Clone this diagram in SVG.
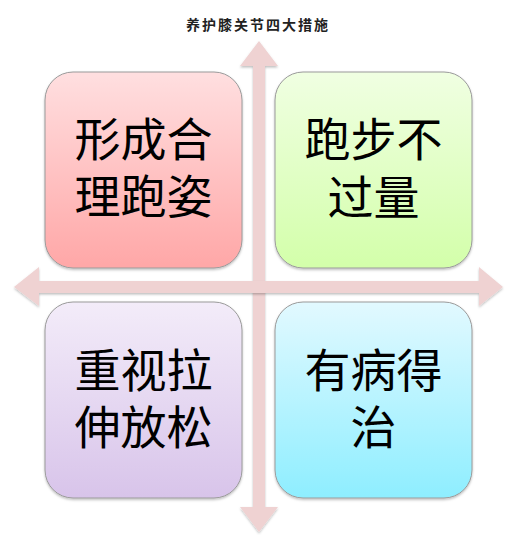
<svg xmlns="http://www.w3.org/2000/svg" width="522" height="535" viewBox="0 0 522 535">
<style>
.t{font-family:"Noto Sans CJK SC","Noto Sans",sans-serif;fill:#000;text-anchor:middle}
.big{font-size:46px}
.title{font-size:14px;font-weight:bold;letter-spacing:2px;fill:#222}
.box{stroke:#9a9a9a;stroke-width:1}
.arrow{fill:#efd2d2}
</style>
<defs>
<linearGradient id="gRed" x1="0" y1="0" x2="0" y2="1"><stop offset="0" stop-color="#ffdfe0"/><stop offset="1" stop-color="#ffa7a7"/></linearGradient>
<linearGradient id="gGreen" x1="0" y1="0" x2="0" y2="1"><stop offset="0" stop-color="#f0ffe2"/><stop offset="1" stop-color="#d3ffaa"/></linearGradient>
<linearGradient id="gPurple" x1="0" y1="0" x2="0" y2="1"><stop offset="0" stop-color="#f3ecf9"/><stop offset="1" stop-color="#d8c4ea"/></linearGradient>
<linearGradient id="gBlue" x1="0" y1="0" x2="0" y2="1"><stop offset="0" stop-color="#e2f9ff"/><stop offset="1" stop-color="#8eeeff"/></linearGradient>
<filter id="sh" x="-10%" y="-10%" width="120%" height="120%"><feDropShadow dx="0" dy="1.5" stdDeviation="1.2" flood-color="#000" flood-opacity="0.25"/></filter>
</defs>
<rect width="522" height="535" fill="#fff"/>
<text class="t title" x="258" y="30">养护膝关节四大措施</text>
<g id="connectors">
<polygon class="arrow" filter="url(#sh)" points="259,41 278,66 265,66 265,507 278,507 259,532 240,507 253,507 253,66 240,66"/>
<polygon class="arrow" filter="url(#sh)" points="14,287 39,267 39,281 479,281 479,267 503,287 479,306 479,293 39,293 39,306"/>
</g>
<g id="node-tl">
<rect class="box" filter="url(#sh)" x="45" y="72" width="197" height="196" rx="28" fill="url(#gRed)"/>
<text class="t big" x="143.5" y="156">形成合</text>
<text class="t big" x="143.5" y="213">理跑姿</text>
</g>
<g id="node-tr">
<rect class="box" filter="url(#sh)" x="275" y="72" width="197" height="196" rx="28" fill="url(#gGreen)"/>
<text class="t big" x="373.5" y="156">跑步不</text>
<text class="t big" x="373.5" y="214">过量</text>
</g>
<g id="node-bl">
<rect class="box" filter="url(#sh)" x="45" y="302" width="197" height="196" rx="28" fill="url(#gPurple)"/>
<text class="t big" x="143.5" y="387">重视拉</text>
<text class="t big" x="143.5" y="444">伸放松</text>
</g>
<g id="node-br">
<rect class="box" filter="url(#sh)" x="275" y="302" width="197" height="196" rx="28" fill="url(#gBlue)"/>
<text class="t big" x="373.5" y="387">有病得</text>
<text class="t big" x="373.5" y="444">治</text>
</g>
</svg>
